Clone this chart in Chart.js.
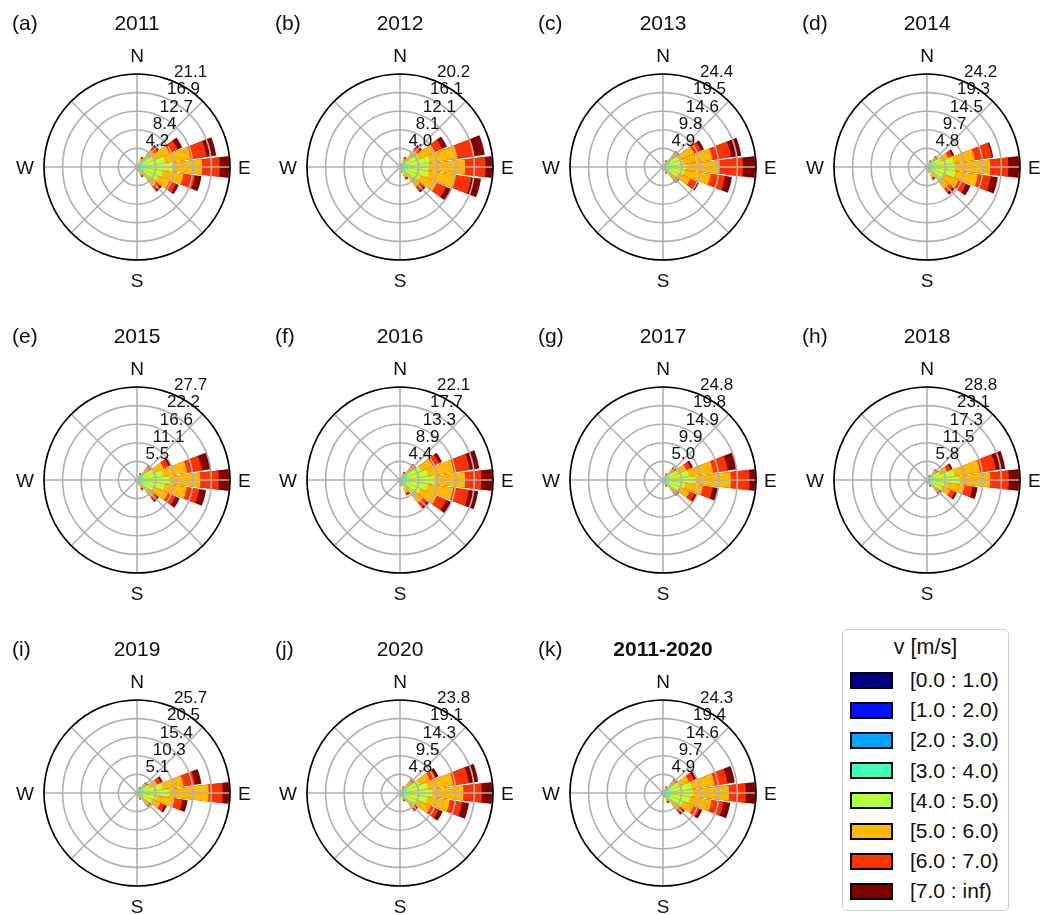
<!DOCTYPE html>
<html>
<head>
<meta charset="utf-8">
<script src="https://cdn.jsdelivr.net/npm/chart.js@4.4.1/dist/chart.umd.min.js"></script>
<style>
  html, body { margin: 0; padding: 0; background: #fff; }
  body { width: 1040px; height: 915px; position: relative; overflow: hidden;
         font-family: 'Liberation Sans', Arial, sans-serif; color: #111; }
  canvas.rose { position: absolute; }
  #legend { position: absolute; left: 842px; top: 629px; width: 167px; height: 282px;
            border: 1.5px solid #cccccc; border-radius: 5px; box-sizing: border-box; background: #fff; }
  #legend .ttl { position: absolute; left: 0; width: 100%; top: 5px; text-align: center;
                 font-size: 21.5px; line-height: 24px; }
  #legend .sw { position: absolute; left: 7px; width: 43px; height: 17px; box-sizing: border-box;
                border: 2px solid #000; }
  #legend .lb { position: absolute; left: 67px; font-size: 21px; line-height: 20px; white-space: pre; }
</style>
</head>
<body>
<div id="legend"></div>
<script>
// Wind direction sectors (degrees clockwise from north), 15-degree bins
const directions = [0, 15, 30, 45, 60, 75, 90, 105, 120, 135, 150, 165,
                    180, 195, 210, 225, 240, 255, 270, 285, 300, 315, 330, 345];

// Wind speed classes and their colours
const speedBins = ['[0.0 : 1.0)', '[1.0 : 2.0)', '[2.0 : 3.0)', '[3.0 : 4.0)',
                   '[4.0 : 5.0)', '[5.0 : 6.0)', '[6.0 : 7.0)', '[7.0 : inf)'];
const binColors = ['#000080', '#0012ff', '#00a4ff', '#41ffb6',
                   '#b6ff41', '#ffb900', '#ff3200', '#800000'];

// Frequency (%) per speed class (rows) and direction sector (columns)
const rose2011 = [
  [0.02,0.02,0.03,0.04,0.04,0.05,0.06,0.06,0.06,0.04,0.03,0.01,0.01,0.02,0.02,0.02,0.02,0.02,0.02,0.02,0.02,0.02,0.02,0.02],
  [0.04,0.05,0.08,0.09,0.11,0.13,0.15,0.15,0.14,0.10,0.08,0.03,0.02,0.04,0.04,0.04,0.04,0.05,0.06,0.05,0.04,0.04,0.04,0.04],
  [0.06,0.08,0.15,0.25,0.29,0.36,0.42,0.38,0.41,0.29,0.15,0.06,0.04,0.06,0.06,0.06,0.08,0.10,0.12,0.10,0.08,0.06,0.06,0.06],
  [0.08,0.15,0.40,0.76,0.89,1.27,1.48,1.18,1.24,0.86,0.40,0.17,0.10,0.06,0.06,0.06,0.06,0.08,0.10,0.08,0.06,0.06,0.06,0.06],
  [0.06,0.20,0.89,2.03,3.13,4.54,5.91,4.14,3.31,2.29,0.89,0.37,0.22,0.03,0.03,0.03,0.03,0.03,0.04,0.03,0.03,0.03,0.03,0.03],
  [0.02,0.08,0.56,1.77,3.58,5.99,6.75,4.73,2.90,2.01,0.56,0.23,0.14,0,0,0,0,0,0,0,0,0,0,0],
  [0,0.03,0.30,0.95,2.01,3.63,4.01,2.66,1.55,1.08,0.30,0.13,0.08,0,0,0,0,0,0,0,0,0,0,0],
  [0,0,0.13,0.44,1.12,2.18,2.32,1.48,0.72,0.50,0.13,0.05,0.03,0,0,0,0,0,0,0,0,0,0,0]
];
const rose2012 = [
  [0.02,0.02,0.02,0.04,0.04,0.06,0.06,0.05,0.05,0.04,0.03,0.01,0.01,0.02,0.02,0.02,0.02,0.02,0.02,0.02,0.02,0.02,0.02,0.02],
  [0.04,0.05,0.07,0.08,0.11,0.13,0.14,0.12,0.12,0.10,0.09,0.04,0.02,0.04,0.04,0.04,0.04,0.05,0.05,0.05,0.04,0.04,0.04,0.04],
  [0.06,0.08,0.15,0.24,0.29,0.37,0.40,0.36,0.31,0.28,0.18,0.07,0.04,0.06,0.06,0.06,0.06,0.08,0.09,0.08,0.06,0.06,0.06,0.06],
  [0.08,0.15,0.39,0.73,0.89,1.30,1.21,1.24,0.97,0.85,0.48,0.19,0.10,0.06,0.06,0.06,0.06,0.07,0.08,0.07,0.06,0.06,0.06,0.06],
  [0.06,0.20,0.85,1.94,3.11,4.64,4.44,4.44,3.39,2.26,1.06,0.42,0.21,0.03,0.03,0.03,0.03,0.03,0.03,0.03,0.03,0.03,0.03,0.03],
  [0.02,0.08,0.53,1.69,3.55,6.12,7.87,5.86,3.87,1.98,0.67,0.27,0.13,0,0,0,0,0,0,0,0,0,0,0],
  [0,0.03,0.29,0.91,2.00,3.71,4.44,3.55,2.18,1.06,0.36,0.15,0.07,0,0,0,0,0,0,0,0,0,0,0],
  [0,0,0.12,0.42,1.11,2.23,1.61,2.13,1.21,0.49,0.15,0.06,0.03,0,0,0,0,0,0,0,0,0,0,0]
];
const rose2013 = [
  [0.02,0.02,0.02,0.05,0.07,0.06,0.07,0.07,0.06,0.05,0.02,0.01,0.01,0.02,0.02,0.02,0.02,0.02,0.02,0.02,0.02,0.02,0.02,0.02],
  [0.04,0.05,0.06,0.16,0.16,0.15,0.17,0.18,0.14,0.16,0.06,0.03,0.02,0.04,0.04,0.04,0.04,0.05,0.06,0.05,0.04,0.04,0.04,0.04],
  [0.06,0.07,0.12,0.32,0.47,0.41,0.49,0.48,0.41,0.32,0.12,0.06,0.03,0.06,0.06,0.06,0.06,0.08,0.10,0.08,0.06,0.06,0.06,0.06],
  [0.08,0.12,0.31,0.86,1.17,1.24,1.46,1.28,1.03,0.86,0.31,0.16,0.08,0.06,0.06,0.06,0.06,0.07,0.08,0.07,0.06,0.06,0.06,0.06],
  [0.05,0.15,0.68,1.88,3.04,3.53,3.90,3.66,2.67,1.88,0.68,0.34,0.17,0.03,0.03,0.03,0.03,0.03,0.03,0.03,0.03,0.03,0.03,0.03],
  [0.02,0.06,0.43,1.18,3.98,7.67,8.78,6.95,3.49,1.18,0.43,0.22,0.11,0,0,0,0,0,0,0,0,0,0,0],
  [0,0.02,0.23,0.64,1.99,4.98,6.10,3.84,1.74,0.64,0.23,0.12,0.05,0,0,0,0,0,0,0,0,0,0,0],
  [0,0,0.10,0.27,0.82,2.70,3.43,1.83,0.72,0.27,0.10,0.04,0.02,0,0,0,0,0,0,0,0,0,0,0]
];
const rose2014 = [
  [0.02,0.02,0.02,0.04,0.05,0.07,0.07,0.07,0.05,0.06,0.04,0.01,0.01,0.02,0.02,0.02,0.02,0.02,0.03,0.03,0.03,0.02,0.02,0.02],
  [0.04,0.05,0.06,0.11,0.11,0.17,0.17,0.19,0.12,0.13,0.11,0.04,0.02,0.04,0.04,0.04,0.04,0.06,0.10,0.15,0.12,0.05,0.04,0.04],
  [0.06,0.08,0.12,0.22,0.31,0.45,0.48,0.48,0.32,0.37,0.22,0.09,0.04,0.06,0.06,0.06,0.06,0.08,0.12,0.18,0.15,0.06,0.06,0.06],
  [0.08,0.12,0.31,0.58,0.93,1.39,1.21,1.49,0.99,1.10,0.58,0.23,0.12,0.06,0.06,0.06,0.06,0.06,0.08,0.08,0.07,0.06,0.06,0.06],
  [0.05,0.15,0.68,1.27,2.47,4.87,5.32,5.21,3.45,2.94,1.27,0.51,0.26,0.03,0.03,0.03,0.03,0.03,0.03,0.03,0.03,0.03,0.03,0.03],
  [0.02,0.06,0.42,0.80,2.16,5.57,9.18,5.96,3.95,2.57,0.80,0.32,0.16,0,0,0,0,0,0,0,0,0,0,0],
  [0,0.02,0.23,0.44,1.16,4.47,4.71,3.35,2.22,1.38,0.44,0.17,0.09,0,0,0,0,0,0,0,0,0,0,0],
  [0,0,0.10,0.18,0.54,0.40,3.03,1.86,1.23,0.64,0.18,0.07,0.04,0,0,0,0,0,0,0,0,0,0,0]
];
const rose2015 = [
  [0.02,0.02,0.02,0.06,0.07,0.07,0.08,0.08,0.06,0.05,0.03,0.01,0.01,0.02,0.02,0.02,0.02,0.02,0.02,0.02,0.02,0.02,0.02,0.02],
  [0.04,0.05,0.07,0.17,0.16,0.16,0.19,0.21,0.14,0.12,0.10,0.04,0.02,0.04,0.04,0.04,0.04,0.05,0.06,0.05,0.04,0.04,0.04,0.04],
  [0.06,0.08,0.13,0.33,0.44,0.44,0.55,0.54,0.36,0.33,0.20,0.08,0.05,0.06,0.06,0.06,0.06,0.08,0.10,0.08,0.06,0.06,0.06,0.06],
  [0.08,0.15,0.36,0.89,1.33,1.55,1.94,1.66,1.11,1.00,0.53,0.22,0.13,0.06,0.06,0.06,0.06,0.07,0.09,0.07,0.06,0.06,0.06,0.06],
  [0.06,0.20,0.78,1.94,3.55,5.54,6.93,5.82,3.88,2.66,1.16,0.49,0.29,0.03,0.03,0.03,0.03,0.03,0.03,0.03,0.03,0.03,0.03,0.03],
  [0.02,0.08,0.49,1.22,3.10,7.31,9.14,6.65,4.43,2.33,0.73,0.31,0.18,0,0,0,0,0,0,0,0,0,0,0],
  [0,0.03,0.27,0.66,1.66,4.43,5.54,3.74,2.49,1.25,0.40,0.17,0.10,0,0,0,0,0,0,0,0,0,0,0],
  [0,0,0.11,0.28,0.78,2.66,3.33,2.08,1.39,0.58,0.17,0.07,0.04,0,0,0,0,0,0,0,0,0,0,0]
];
const rose2016 = [
  [0.02,0.02,0.02,0.05,0.07,0.06,0.07,0.06,0.05,0.05,0.04,0.01,0.01,0.02,0.03,0.03,0.02,0.02,0.02,0.02,0.02,0.02,0.02,0.02],
  [0.04,0.05,0.07,0.15,0.15,0.13,0.15,0.13,0.13,0.12,0.12,0.04,0.02,0.05,0.10,0.12,0.06,0.05,0.05,0.05,0.04,0.04,0.04,0.04],
  [0.06,0.08,0.13,0.29,0.43,0.38,0.44,0.38,0.35,0.35,0.24,0.08,0.04,0.06,0.12,0.15,0.08,0.08,0.08,0.08,0.06,0.06,0.06,0.06],
  [0.08,0.15,0.35,0.78,1.30,1.33,1.55,1.32,1.06,1.06,0.64,0.21,0.11,0.06,0.06,0.06,0.06,0.06,0.07,0.06,0.06,0.06,0.06,0.06],
  [0.06,0.20,0.77,1.70,3.47,4.76,5.98,4.70,3.72,2.83,1.39,0.47,0.23,0.03,0.03,0.03,0.03,0.03,0.03,0.03,0.03,0.03,0.03,0.03],
  [0.02,0.08,0.49,1.07,3.04,6.28,7.30,6.21,4.25,2.48,0.88,0.29,0.15,0,0,0,0,0,0,0,0,0,0,0],
  [0,0.03,0.27,0.58,1.63,3.81,3.87,3.76,2.39,1.33,0.48,0.16,0.08,0,0,0,0,0,0,0,0,0,0,0],
  [0,0,0.11,0.24,0.76,2.28,2.77,2.25,1.33,0.62,0.20,0.07,0.03,0,0,0,0,0,0,0,0,0,0,0]
];
const rose2017 = [
  [0.02,0.02,0.02,0.04,0.05,0.06,0.07,0.06,0.06,0.05,0.02,0.01,0.01,0.02,0.02,0.02,0.02,0.02,0.02,0.02,0.02,0.02,0.02,0.02],
  [0.04,0.05,0.06,0.13,0.12,0.14,0.17,0.15,0.14,0.16,0.06,0.03,0.02,0.04,0.04,0.04,0.04,0.05,0.06,0.05,0.04,0.04,0.04,0.04],
  [0.06,0.08,0.12,0.27,0.35,0.40,0.50,0.39,0.40,0.33,0.12,0.06,0.03,0.06,0.06,0.06,0.06,0.08,0.10,0.08,0.06,0.06,0.06,0.06],
  [0.08,0.15,0.32,0.71,1.04,1.39,1.74,1.19,1.19,0.87,0.32,0.16,0.08,0.06,0.06,0.06,0.06,0.07,0.08,0.07,0.06,0.06,0.06,0.06],
  [0.06,0.20,0.69,1.56,2.78,4.96,6.20,4.17,3.17,1.91,0.69,0.35,0.17,0.03,0.03,0.03,0.03,0.03,0.03,0.03,0.03,0.03,0.03,0.03],
  [0.02,0.08,0.44,0.98,2.43,6.55,9.42,4.76,2.78,1.20,0.44,0.22,0.11,0,0,0,0,0,0,0,0,0,0,0],
  [0,0.03,0.24,0.54,1.30,3.97,4.96,2.68,1.49,0.66,0.24,0.12,0.06,0,0,0,0,0,0,0,0,0,0,0],
  [0,0,0.10,0.22,0.61,2.38,1.74,1.49,0.69,0.27,0.10,0.05,0.02,0,0,0,0,0,0,0,0,0,0,0]
];
const rose2018 = [
  [0.02,0.02,0.02,0.04,0.05,0.07,0.09,0.06,0.06,0.06,0.02,0.01,0.01,0.02,0.02,0.02,0.02,0.02,0.02,0.02,0.02,0.02,0.02,0.02],
  [0.04,0.05,0.05,0.13,0.12,0.17,0.20,0.16,0.14,0.17,0.07,0.03,0.02,0.04,0.04,0.04,0.04,0.05,0.06,0.05,0.04,0.04,0.04,0.04],
  [0.06,0.08,0.10,0.26,0.35,0.49,0.58,0.41,0.40,0.35,0.14,0.07,0.03,0.06,0.06,0.06,0.06,0.08,0.10,0.08,0.06,0.06,0.06,0.06],
  [0.08,0.15,0.28,0.69,1.04,1.72,2.02,1.27,1.21,0.92,0.37,0.18,0.09,0.06,0.06,0.06,0.06,0.07,0.08,0.07,0.06,0.06,0.06,0.06],
  [0.06,0.20,0.61,1.51,2.77,6.13,7.21,4.44,3.23,2.02,0.81,0.40,0.20,0.03,0.03,0.03,0.03,0.03,0.03,0.03,0.03,0.03,0.03,0.03],
  [0.02,0.08,0.38,0.95,2.42,8.09,9.51,5.08,2.83,1.27,0.51,0.25,0.13,0,0,0,0,0,0,0,0,0,0,0],
  [0,0.03,0.21,0.52,1.30,4.90,5.77,2.85,1.51,0.69,0.28,0.14,0.07,0,0,0,0,0,0,0,0,0,0,0],
  [0,0,0.08,0.22,0.60,2.94,3.45,1.59,0.71,0.29,0.12,0.06,0.03,0,0,0,0,0,0,0,0,0,0,0]
];
const rose2019 = [
  [0.02,0.02,0.02,0.04,0.05,0.07,0.08,0.06,0.05,0.05,0.02,0.01,0.01,0.02,0.02,0.02,0.02,0.02,0.02,0.02,0.02,0.02,0.02,0.02],
  [0.04,0.05,0.05,0.12,0.11,0.18,0.18,0.14,0.13,0.15,0.06,0.03,0.02,0.04,0.04,0.04,0.04,0.06,0.07,0.06,0.04,0.04,0.04,0.04],
  [0.06,0.08,0.11,0.23,0.31,0.47,0.51,0.37,0.36,0.31,0.12,0.06,0.03,0.06,0.06,0.06,0.08,0.12,0.14,0.12,0.08,0.06,0.06,0.06],
  [0.08,0.15,0.29,0.62,0.92,1.44,1.80,1.13,1.08,0.82,0.33,0.16,0.08,0.06,0.06,0.08,0.12,0.20,0.22,0.20,0.10,0.06,0.06,0.06],
  [0.06,0.20,0.63,1.35,2.46,5.03,6.42,3.95,2.87,1.80,0.72,0.36,0.18,0.03,0.03,0.03,0.04,0.06,0.06,0.06,0.04,0.03,0.03,0.03],
  [0.02,0.08,0.40,0.85,2.16,5.75,10.78,4.52,2.51,1.13,0.45,0.23,0.11,0,0,0,0,0,0,0,0,0,0,0],
  [0,0.03,0.22,0.46,1.16,3.23,3.85,2.54,1.35,0.62,0.25,0.12,0.06,0,0,0,0,0,0,0,0,0,0,0],
  [0,0,0.09,0.19,0.54,1.80,2.05,1.41,0.63,0.26,0.10,0.05,0.03,0,0,0,0,0,0,0,0,0,0,0]
];
const rose2020 = [
  [0.02,0.02,0.02,0.05,0.06,0.06,0.07,0.07,0.05,0.06,0.02,0.01,0.01,0.02,0.02,0.02,0.02,0.02,0.02,0.02,0.02,0.02,0.02,0.02],
  [0.04,0.05,0.06,0.14,0.15,0.14,0.17,0.18,0.12,0.18,0.07,0.03,0.01,0.04,0.04,0.04,0.04,0.05,0.06,0.05,0.04,0.04,0.04,0.04],
  [0.06,0.08,0.11,0.29,0.43,0.41,0.48,0.46,0.31,0.36,0.14,0.06,0.03,0.06,0.06,0.06,0.06,0.08,0.10,0.08,0.06,0.06,0.06,0.06],
  [0.08,0.15,0.31,0.76,1.29,1.42,1.67,1.43,0.95,0.95,0.38,0.15,0.08,0.06,0.06,0.06,0.06,0.07,0.08,0.07,0.06,0.06,0.06,0.06],
  [0.06,0.20,0.67,1.67,3.43,5.07,5.96,5.00,3.34,2.09,0.83,0.33,0.17,0.03,0.03,0.03,0.03,0.03,0.03,0.03,0.03,0.03,0.03,0.03],
  [0.02,0.08,0.42,1.05,3.00,6.69,7.86,5.72,3.81,1.31,0.52,0.21,0.11,0,0,0,0,0,0,0,0,0,0,0],
  [0,0.03,0.23,0.57,1.61,4.05,4.77,3.22,2.15,0.72,0.29,0.11,0.05,0,0,0,0,0,0,0,0,0,0,0],
  [0,0,0.09,0.24,0.75,2.42,2.85,1.79,1.19,0.29,0.13,0.05,0.02,0,0,0,0,0,0,0,0,0,0,0]
];
const roseAll = [
  [0.02,0.02,0.02,0.05,0.06,0.08,0.07,0.07,0.07,0.04,0.03,0.01,0.01,0.02,0.02,0.02,0.02,0.02,0.03,0.02,0.02,0.02,0.02,0.02],
  [0.04,0.05,0.06,0.15,0.13,0.19,0.17,0.18,0.16,0.10,0.09,0.04,0.02,0.04,0.04,0.04,0.04,0.10,0.12,0.06,0.04,0.04,0.04,0.04],
  [0.06,0.08,0.12,0.29,0.38,0.49,0.49,0.46,0.45,0.29,0.18,0.07,0.04,0.06,0.06,0.06,0.06,0.12,0.15,0.08,0.06,0.06,0.06,0.06],
  [0.08,0.15,0.31,0.78,1.14,1.52,1.70,1.42,1.34,0.87,0.47,0.20,0.12,0.06,0.06,0.06,0.06,0.07,0.08,0.07,0.06,0.06,0.06,0.06],
  [0.06,0.20,0.68,1.70,3.03,5.31,5.35,4.97,3.58,2.33,1.02,0.43,0.26,0.03,0.03,0.03,0.03,0.03,0.03,0.03,0.03,0.03,0.03,0.03],
  [0.02,0.08,0.43,1.07,2.65,6.06,9.48,5.68,3.13,2.04,0.64,0.27,0.16,0,0,0,0,0,0,0,0,0,0,0],
  [0,0.03,0.23,0.58,1.42,3.41,4.37,3.19,1.68,1.09,0.35,0.15,0.09,0,0,0,0,0,0,0,0,0,0,0],
  [0,0,0.10,0.24,0.66,1.90,2.67,1.77,0.78,0.51,0.15,0.06,0.04,0,0,0,0,0,0,0,0,0,0,0]
];

// Radial ring labels (percent frequency)
const ticks2011 = ['4.2', '8.4', '12.7', '16.9', '21.1'];
const ticks2012 = ['4.0', '8.1', '12.1', '16.1', '20.2'];
const ticks2013 = ['4.9', '9.8', '14.6', '19.5', '24.4'];
const ticks2014 = ['4.8', '9.7', '14.5', '19.3', '24.2'];
const ticks2015 = ['5.5', '11.1', '16.6', '22.2', '27.7'];
const ticks2016 = ['4.4', '8.9', '13.3', '17.7', '22.1'];
const ticks2017 = ['5.0', '9.9', '14.9', '19.8', '24.8'];
const ticks2018 = ['5.8', '11.5', '17.3', '23.1', '28.8'];
const ticks2019 = ['5.1', '10.3', '15.4', '20.5', '25.7'];
const ticks2020 = ['4.8', '9.5', '14.3', '19.1', '23.8'];
const ticksAll  = ['4.9', '9.7', '14.6', '19.4', '24.3'];

const panelTags   = ['(a)', '(b)', '(c)', '(d)', '(e)', '(f)', '(g)', '(h)', '(i)', '(j)', '(k)'];
const panelTitles = ['2011', '2012', '2013', '2014', '2015', '2016', '2017', '2018', '2019', '2020', '2011-2020'];
const panelData   = [rose2011, rose2012, rose2013, rose2014, rose2015, rose2016,
                     rose2017, rose2018, rose2019, rose2020, roseAll];
const panelTicks  = [ticks2011, ticks2012, ticks2013, ticks2014, ticks2015, ticks2016,
                     ticks2017, ticks2018, ticks2019, ticks2020, ticksAll];

// Page geometry
const colCenters = [137, 400, 663, 927];
const rowCenters = [167, 480, 793];
const CANVAS_W = 262, CANVAS_H = 312, CX = 131, CY = 165, RADIUS = 93.5;
const BAR_DEG = 13.5, GAP_DEG = 1.5;      // each sector: bar + gap = 15 degrees
const FONT = "'Liberation Sans', Arial, sans-serif";

Chart.defaults.font.family = FONT;

// Grid, frame and all text of one rose, drawn above the bars
const roseFrame = {
  id: 'roseFrame',
  afterDatasetsDraw(chart, args, opts) {
    const scale = chart.scales.r;
    const ctx = chart.ctx;
    const cx = scale.xCenter, cy = scale.yCenter, R = scale.drawingArea;
    const maxV = scale.max;
    ctx.save();
    // concentric rings
    ctx.strokeStyle = '#b0b0b0';
    ctx.lineWidth = 1.6;
    const ringR = [];
    for (let k = 1; k <= 5; k++) {
      const d = scale.getDistanceFromCenterForValue(maxV * k / 5);
      ringR.push(d);
      ctx.beginPath();
      ctx.arc(cx, cy, d, 0, Math.PI * 2);
      ctx.stroke();
    }
    // spokes every 45 degrees
    for (let k = 0; k < 8; k++) {
      const a = k * Math.PI / 4;
      ctx.beginPath();
      ctx.moveTo(cx, cy);
      ctx.lineTo(cx + R * Math.sin(a), cy - R * Math.cos(a));
      ctx.stroke();
    }
    // outer frame
    ctx.strokeStyle = '#000';
    ctx.lineWidth = 1.6;
    ctx.beginPath();
    ctx.arc(cx, cy, R, 0, Math.PI * 2);
    ctx.stroke();

    ctx.fillStyle = '#111';
    // ring labels along the 22.5 degree line
    ctx.font = '17px ' + FONT;
    ctx.textAlign = 'left';
    ctx.textBaseline = 'bottom';
    const la = 22.5 * Math.PI / 180;
    opts.ticks.forEach((t, i) => {
      const d = ringR[i];
      ctx.fillText(t, cx + d * Math.sin(la) + 1.5, cy - d * Math.cos(la));
    });
    // compass letters
    ctx.font = '19px ' + FONT;
    ctx.textBaseline = 'alphabetic';
    ctx.textAlign = 'center';
    ctx.fillText('N', cx, cy - 105);
    ctx.fillText('S', cx, cy + 120);
    ctx.textAlign = 'left';
    ctx.fillText('E', cx + 101, cy + 7);
    ctx.textAlign = 'right';
    ctx.fillText('W', cx - 103, cy + 7);
    // panel tag and title
    ctx.font = '21px ' + FONT;
    ctx.textAlign = 'left';
    ctx.fillText(opts.tag, cx - 125, cy - 137);
    ctx.font = (opts.bold ? 'bold ' : '') + '21px ' + FONT;
    ctx.textAlign = 'center';
    ctx.fillText(opts.title, cx, cy - 137);
    ctx.restore();
  }
};

// Each sector is followed by an empty gap slot
const slotLabels = [];
directions.forEach(d => { slotLabels.push(String(d)); slotLabels.push(''); });

function buildDatasets(bins) {
  // running totals: class k is drawn from the centre out to the sum of classes 0..k;
  // lower classes lie on top, so each visible band shows one speed class
  const sets = [];
  let run = directions.map(() => 0);
  bins.forEach((row, k) => {
    run = run.map((v, i) => Math.round((v + row[i]) * 1000) / 1000);
    const data = [];
    run.forEach(v => { data.push(v); data.push(0); });
    sets.push({
      label: speedBins[k],
      data: data,
      backgroundColor: binColors[k],
      borderWidth: 0,
      angle: c => (c.dataIndex % 2 === 0 ? BAR_DEG : GAP_DEG)
    });
  });
  return { sets, maxTotal: Math.max(...run) };
}

panelData.forEach((bins, p) => {
  const col = p % 4, row = Math.floor(p / 4);
  const canvas = document.createElement('canvas');
  canvas.className = 'rose';
  canvas.width = CANVAS_W;
  canvas.height = CANVAS_H;
  canvas.style.left = (colCenters[col] - CX) + 'px';
  canvas.style.top = (rowCenters[row] - CY) + 'px';
  document.body.appendChild(canvas);

  const built = buildDatasets(bins);
  new Chart(canvas, {
    type: 'polarArea',
    data: { labels: slotLabels, datasets: built.sets },
    options: {
      responsive: false,
      animation: false,
      devicePixelRatio: 1,
      layout: {
        padding: {
          left: CX - RADIUS,
          right: CANVAS_W - CX - RADIUS,
          top: CY - RADIUS,
          bottom: CANVAS_H - CY - RADIUS
        }
      },
      scales: {
        r: {
          min: 0,
          max: built.maxTotal,
          startAngle: -BAR_DEG / 2,
          ticks: { display: false },
          grid: { display: false },
          angleLines: { display: false },
          pointLabels: { display: false }
        }
      },
      plugins: {
        legend: { display: false },
        tooltip: { enabled: false },
        roseFrame: {
          ticks: panelTicks[p],
          tag: panelTags[p],
          title: panelTitles[p],
          bold: p === 10
        }
      }
    },
    plugins: [roseFrame]
  });
});

// Speed-class legend
const legend = document.getElementById('legend');
const ttl = document.createElement('div');
ttl.className = 'ttl';
ttl.textContent = 'v [m/s]';
legend.appendChild(ttl);
speedBins.forEach((name, k) => {
  const rowMid = 50 + k * 30.2;
  const sw = document.createElement('div');
  sw.className = 'sw';
  sw.style.top = (rowMid - 8.5) + 'px';
  sw.style.background = binColors[k];
  legend.appendChild(sw);
  const lb = document.createElement('div');
  lb.className = 'lb';
  lb.style.top = (rowMid - 10) + 'px';
  lb.textContent = name;
  legend.appendChild(lb);
});
</script>
</body>
</html>
